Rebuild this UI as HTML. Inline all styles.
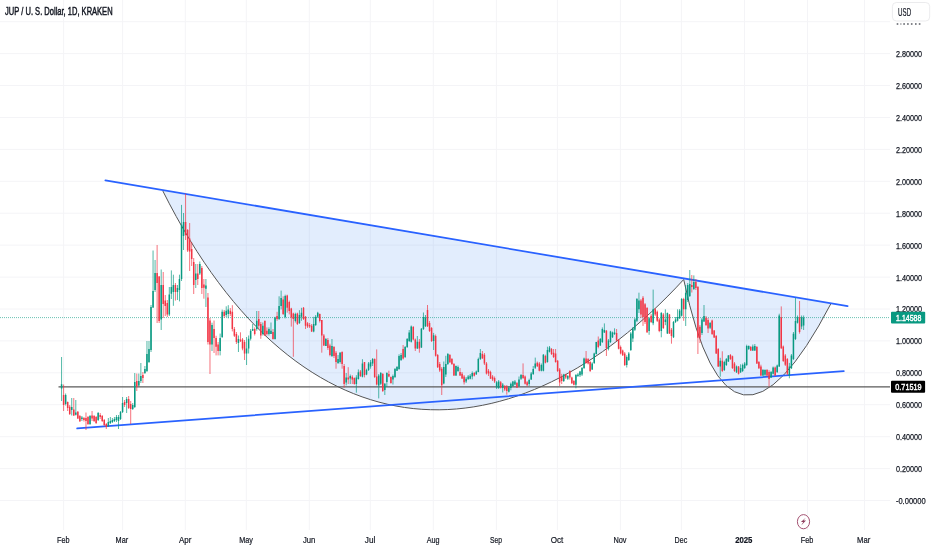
<!DOCTYPE html><html><head><meta charset="utf-8"><title>JUP / U. S. Dollar, 1D, KRAKEN</title><style>
html,body{margin:0;padding:0;background:#fff;width:932px;height:550px;overflow:hidden}
svg{display:block}
text{font-family:"Liberation Sans",Arial,sans-serif}
</style></head><body>
<svg width="932" height="550" viewBox="0 0 932 550">
<rect width="932" height="550" fill="#ffffff"/>
<path d="M63.6 0V530 M122.6 0V530 M185.3 0V530 M246.3 0V530 M309.3 0V530 M370.3 0V530 M433.3 0V530 M496.4 0V530 M557.4 0V530 M620.4 0V530 M681.4 0V530 M744.5 0V530 M807.5 0V530 M864.5 0V530 M0 500.5H890 M0 468.6H890 M0 436.7H890 M0 404.7H890 M0 372.8H890 M0 340.9H890 M0 309.0H890 M0 277.1H890 M0 245.1H890 M0 213.2H890 M0 181.3H890 M0 149.4H890 M0 117.5H890 M0 85.5H890 M0 53.6H890 M0 21.7H890" stroke="#f4f4f7" stroke-width="1" fill="none"/>
<path d="M162.8 190.9C303.1 471.35 516.69 461.31 683.7 279.5Z" fill="rgba(33,118,243,0.13)"/>
<path d="M683.7 279.5Q729.6 498.27 831.1 303.3Z" fill="rgba(33,118,243,0.13)"/>
<path d="M162.8 190.9C303.1 471.35 516.69 461.31 683.7 279.5" stroke="#555" stroke-width="1" fill="none"/>
<path d="M683.7 279.5Q729.6 498.27 831.1 303.3" stroke="#555" stroke-width="1" fill="none"/>
<path d="M58.5 386.8H890" stroke="#5a5a5a" stroke-width="1.35"/>
<path d="M105.4 180.3L847.6 306.2" stroke="#2962ff" stroke-width="1.8" stroke-linecap="round"/>
<path d="M77.2 428.4L843.8 371.1" stroke="#2962ff" stroke-width="1.8" stroke-linecap="round"/>
<path d="M0 317.6H890" stroke="#089981" stroke-opacity="0.6" stroke-width="1" stroke-dasharray="1 1"/>
<path d="M61.57 357.0V401.0 M65.64 393.5V405.5 M71.73 398.0V415.5 M75.80 400.0V415.5 M81.90 416.0V421.0 M90.03 415.0V425.0 M98.16 412.0V421.0 M108.33 418.0V427.0 M110.36 417.0V424.0 M112.39 418.0V423.0 M114.43 417.0V422.0 M116.46 415.0V422.0 M118.49 415.0V429.0 M120.53 411.0V420.0 M122.56 397.0V413.0 M126.63 397.0V413.0 M132.72 403.0V410.0 M134.76 373.0V408.0 M138.82 373.5V386.5 M140.86 363.0V383.0 M144.92 366.0V374.0 M146.96 341.0V372.0 M148.99 341.0V363.0 M151.02 305.0V352.0 M153.06 250.5V308.0 M155.09 260.0V292.0 M161.19 269.5V330.0 M169.32 287.0V316.0 M171.35 270.4V299.0 M173.38 274.7V305.8 M177.45 285.0V300.0 M179.48 274.7V301.4 M181.52 204.9V281.0 M183.55 213.0V250.0 M195.75 264.0V288.0 M199.81 261.5V275.0 M205.91 279.0V307.0 M212.01 322.7V351.0 M220.14 333.6V355.4 M222.18 309.6V338.0 M226.24 306.3V317.0 M228.28 305.2V318.3 M238.44 335.5V352.0 M246.57 337.0V365.0 M248.61 335.5V353.5 M250.64 329.0V340.5 M252.67 324.0V331.0 M256.74 311.0V330.7 M262.84 322.5V335.5 M268.94 327.4V335.5 M270.97 322.5V334.0 M275.04 316.8V339.6 M279.10 296.3V320.0 M281.13 290.6V309.4 M285.20 294.7V318.4 M295.37 312.7V322.5 M299.43 310.2V324.0 M301.46 307.8V320.8 M313.66 316.8V332.3 M315.69 315.0V326.0 M317.73 311.8V318.0 M325.86 338.0V346.0 M331.96 339.0V357.0 M338.06 355.0V364.0 M340.09 352.0V363.6 M346.19 373.0V385.4 M350.26 374.5V384.0 M356.35 375.2V392.7 M358.39 369.4V379.6 M362.45 359.2V377.4 M366.52 368.7V375.2 M368.55 362.0V371.0 M370.59 360.0V368.7 M372.62 358.0V366.0 M378.72 374.0V398.4 M380.75 372.0V385.0 M384.82 383.0V395.0 M386.85 372.3V387.0 M392.95 374.5V384.5 M394.98 368.0V378.0 M397.01 366.0V371.0 M399.05 354.3V369.8 M401.08 353.0V361.0 M405.15 346.0V358.0 M407.18 338.0V348.0 M409.21 330.0V342.0 M411.25 325.5V342.5 M417.34 336.0V349.0 M421.41 328.0V348.0 M423.44 312.5V330.0 M425.48 315.0V327.0 M433.61 332.9V350.0 M443.77 361.5V384.3 M445.81 355.8V377.0 M447.84 353.0V365.0 M455.97 365.5V376.0 M458.00 365.5V372.0 M466.14 377.0V383.0 M468.17 375.0V380.0 M470.20 374.0V379.4 M472.24 371.4V379.4 M476.30 370.5V375.0 M478.33 357.6V372.3 M480.37 349.0V360.0 M496.63 381.0V389.0 M498.66 380.0V389.0 M502.73 383.0V392.5 M508.83 386.0V392.5 M510.86 382.5V390.3 M512.90 380.9V386.7 M514.93 380.0V385.2 M519.00 376.5V387.0 M521.03 374.0V380.0 M529.16 378.7V386.0 M531.19 372.0V380.0 M533.23 366.0V375.0 M535.26 357.6V369.0 M541.36 363.5V371.4 M543.39 354.0V371.4 M547.46 346.7V362.7 M549.49 346.0V352.5 M563.72 373.8V382.0 M567.79 375.0V380.0 M575.92 374.0V388.3 M577.95 373.0V377.0 M579.99 370.9V377.0 M582.02 367.0V376.0 M584.05 357.6V369.0 M592.18 362.2V370.0 M594.22 352.7V364.0 M596.25 341.8V354.5 M600.32 338.0V346.0 M602.35 327.4V343.0 M604.38 323.4V333.0 M608.45 339.0V350.4 M610.48 330.8V343.0 M612.51 331.6V338.0 M614.55 328.3V335.0 M626.74 355.3V367.5 M628.78 352.0V361.0 M630.81 332.0V351.0 M632.84 327.0V342.0 M634.88 318.0V331.0 M636.91 298.0V322.0 M638.94 292.7V313.0 M649.11 317.0V334.8 M653.17 289.6V325.2 M661.31 312.0V337.3 M665.37 309.3V325.2 M667.40 312.5V334.0 M673.50 321.0V338.0 M675.54 317.0V323.0 M677.57 309.3V321.5 M679.60 309.0V319.0 M681.63 298.0V316.5 M685.70 285.0V326.0 M687.73 283.0V302.0 M689.77 270.0V297.0 M693.83 275.4V290.0 M701.97 318.0V335.0 M704.00 305.0V322.0 M710.10 322.0V329.0 M720.26 357.8V376.7 M724.33 360.7V371.0 M726.36 358.0V366.0 M728.39 355.0V362.0 M736.53 365.5V373.0 M740.59 364.3V373.0 M742.62 363.6V372.0 M744.66 362.0V369.0 M746.69 344.7V366.0 M748.72 345.4V350.0 M752.79 344.5V351.0 M754.82 344.0V351.0 M762.96 369.0V376.5 M764.99 369.3V376.0 M771.09 371.0V378.0 M773.12 366.5V374.5 M777.19 364.6V373.0 M779.22 313.7V367.0 M789.38 362.9V378.3 M791.42 354.0V369.0 M793.45 332.0V360.0 M795.48 298.0V340.0 M797.52 315.5V323.5 M801.58 315.5V329.2 M803.62 315.5V330.0" stroke="#089981" stroke-width="0.7" fill="none"/>
<path d="M63.60 384.5V411.0 M67.67 401.5V411.0 M69.70 405.0V415.0 M73.77 398.0V416.0 M77.83 411.0V419.0 M79.87 415.0V422.0 M83.93 417.0V421.5 M85.97 412.5V430.0 M88.00 416.0V425.0 M92.06 411.0V421.0 M94.10 415.0V422.0 M96.13 416.0V424.0 M100.20 413.0V419.0 M102.23 415.0V422.0 M104.26 419.0V426.0 M106.30 423.0V429.0 M124.59 400.0V407.0 M128.66 396.0V409.0 M130.69 401.0V424.0 M136.79 373.5V391.0 M142.89 372.0V383.0 M157.12 245.0V323.0 M159.15 276.0V323.0 M163.22 272.0V318.0 M165.25 295.0V316.0 M167.29 300.0V317.0 M175.42 283.0V300.6 M185.58 193.6V240.0 M187.62 229.0V252.0 M189.65 223.0V271.0 M191.68 242.0V266.0 M193.71 258.0V294.0 M197.78 264.0V285.0 M201.85 266.0V294.0 M203.88 279.0V298.7 M207.95 293.0V344.5 M209.98 318.0V374.0 M214.04 320.5V353.0 M216.08 335.8V355.4 M218.11 342.0V355.4 M224.21 310.0V318.0 M230.31 308.0V316.0 M232.34 305.2V331.4 M234.38 327.0V337.0 M236.41 332.0V344.0 M240.47 332.3V342.0 M242.51 338.0V350.3 M244.54 340.0V360.0 M254.70 327.4V335.5 M258.77 311.0V329.0 M260.80 322.0V338.8 M264.87 320.8V335.5 M266.90 327.4V335.5 M273.00 329.0V339.6 M277.07 311.8V320.8 M283.17 296.3V315.0 M287.23 294.7V312.7 M289.27 300.6V314.4 M291.30 307.8V326.6 M293.33 312.7V356.8 M297.40 312.7V325.0 M303.50 307.0V320.0 M305.53 316.0V329.0 M307.56 322.0V328.0 M309.60 323.0V328.0 M311.63 324.0V332.0 M319.76 313.5V322.5 M321.79 320.0V352.7 M323.83 334.0V346.0 M327.89 338.0V350.0 M329.93 343.7V356.3 M333.99 346.0V358.0 M336.02 351.0V368.7 M342.12 351.3V368.7 M344.16 364.0V387.6 M348.22 367.2V384.0 M352.29 375.2V384.0 M354.32 377.4V384.7 M360.42 370.0V377.0 M364.49 362.0V377.4 M374.65 358.4V378.0 M376.69 349.4V385.4 M382.78 373.0V392.0 M388.88 370.7V377.2 M390.92 376.4V383.7 M403.11 345.0V359.5 M413.28 326.0V340.5 M415.31 338.5V351.0 M419.38 339.0V352.7 M427.51 305.0V327.0 M429.54 321.0V332.0 M431.58 327.0V342.0 M435.64 334.5V356.6 M437.67 354.0V368.0 M439.71 362.0V372.0 M441.74 367.0V395.0 M449.87 354.0V363.0 M451.91 358.0V365.0 M453.94 363.0V376.0 M460.04 368.0V376.0 M462.07 372.0V379.0 M464.10 375.0V384.5 M474.27 372.0V376.5 M482.40 351.0V359.0 M484.43 353.0V365.0 M486.47 362.0V374.5 M488.50 369.0V376.0 M490.53 370.7V378.7 M492.57 375.0V381.0 M494.60 376.5V383.0 M500.70 381.0V388.5 M504.76 385.0V391.0 M506.80 385.0V394.7 M516.96 382.0V388.0 M523.06 363.4V379.0 M525.09 375.5V384.5 M527.13 381.0V386.5 M537.29 361.5V367.0 M539.33 362.0V371.4 M545.42 354.7V363.4 M551.52 348.0V355.0 M553.56 349.0V358.0 M555.59 349.0V362.7 M557.62 360.0V372.0 M559.65 368.0V386.0 M561.69 373.8V384.0 M565.75 373.8V379.0 M569.82 370.2V379.6 M571.85 376.7V384.0 M573.89 380.0V385.4 M586.08 351.0V363.6 M588.12 358.0V364.4 M590.15 361.0V372.0 M598.28 336.5V348.3 M606.41 330.0V356.0 M616.58 329.0V341.2 M618.61 339.0V349.4 M620.64 345.5V354.4 M622.68 349.6V356.0 M624.71 352.0V366.0 M640.98 299.0V318.0 M643.01 296.0V325.9 M645.04 303.0V324.0 M647.07 307.0V333.0 M651.14 314.0V323.0 M655.21 308.0V316.0 M657.24 310.5V322.0 M659.27 318.0V332.2 M663.34 313.0V329.0 M669.44 314.0V334.0 M671.47 328.0V343.7 M683.67 297.8V320.8 M691.80 275.0V292.5 M695.87 279.0V290.0 M697.90 286.0V354.0 M699.93 325.0V343.0 M706.03 316.0V326.0 M708.06 318.0V333.0 M712.13 319.6V335.0 M714.16 330.0V338.0 M716.20 335.0V354.0 M718.23 348.0V367.0 M722.30 351.3V372.0 M730.43 354.0V360.0 M732.46 355.6V369.0 M734.49 362.0V372.0 M738.56 366.0V374.5 M750.76 346.0V351.0 M756.86 346.0V364.0 M758.89 361.0V369.0 M760.92 364.7V376.0 M767.02 369.0V376.5 M769.05 370.2V386.5 M775.15 366.5V376.0 M781.25 306.4V349.0 M783.28 345.5V362.0 M785.32 354.0V366.0 M787.35 358.0V375.0 M799.55 301.0V333.7" stroke="#f23645" stroke-width="0.7" fill="none"/>
<path d="M60.82 384.2h1.5V388.5h-1.5z M64.89 395.0h1.5V404.0h-1.5z M70.98 407.0h1.5V410.0h-1.5z M75.05 412.5h1.5V414.7h-1.5z M81.15 417.5h1.5V419.0h-1.5z M89.28 416.0h1.5V424.0h-1.5z M97.41 413.0h1.5V420.0h-1.5z M107.58 422.0h1.5V426.0h-1.5z M109.61 421.0h1.5V423.0h-1.5z M111.64 420.0h1.5V422.0h-1.5z M113.68 419.0h1.5V421.0h-1.5z M115.71 417.0h1.5V420.0h-1.5z M117.74 417.0h1.5V421.0h-1.5z M119.78 412.0h1.5V419.0h-1.5z M121.81 403.0h1.5V412.0h-1.5z M125.88 399.0h1.5V403.0h-1.5z M131.97 405.0h1.5V409.0h-1.5z M134.01 382.0h1.5V407.0h-1.5z M138.07 381.0h1.5V385.6h-1.5z M140.11 376.0h1.5V381.0h-1.5z M144.17 369.0h1.5V373.0h-1.5z M146.21 354.0h1.5V371.0h-1.5z M148.24 349.0h1.5V362.0h-1.5z M150.27 307.0h1.5V350.0h-1.5z M152.31 291.0h1.5V307.5h-1.5z M154.34 273.0h1.5V290.0h-1.5z M160.44 285.0h1.5V319.6h-1.5z M168.57 294.6h1.5V314.4h-1.5z M170.60 287.0h1.5V293.7h-1.5z M172.63 285.0h1.5V292.0h-1.5z M176.70 288.0h1.5V292.0h-1.5z M178.73 279.0h1.5V290.0h-1.5z M180.77 224.7h1.5V279.0h-1.5z M182.80 222.0h1.5V236.0h-1.5z M195.00 273.6h1.5V280.0h-1.5z M199.06 264.0h1.5V273.6h-1.5z M205.16 285.6h1.5V288.8h-1.5z M211.26 325.0h1.5V344.5h-1.5z M219.39 338.0h1.5V351.0h-1.5z M221.43 311.8h1.5V337.0h-1.5z M225.49 310.7h1.5V315.0h-1.5z M227.53 309.6h1.5V314.0h-1.5z M237.69 339.0h1.5V343.0h-1.5z M245.82 348.6h1.5V353.5h-1.5z M247.86 338.8h1.5V348.6h-1.5z M249.89 330.7h1.5V338.8h-1.5z M251.92 329.0h1.5V330.7h-1.5z M255.99 320.8h1.5V329.0h-1.5z M262.09 325.8h1.5V334.0h-1.5z M268.19 329.0h1.5V334.0h-1.5z M270.22 330.7h1.5V334.0h-1.5z M274.29 317.6h1.5V339.0h-1.5z M278.35 306.0h1.5V319.0h-1.5z M280.38 298.0h1.5V306.0h-1.5z M284.45 296.0h1.5V317.0h-1.5z M294.62 314.0h1.5V321.0h-1.5z M298.68 315.0h1.5V323.0h-1.5z M300.71 312.7h1.5V316.8h-1.5z M312.91 324.0h1.5V331.5h-1.5z M314.94 316.8h1.5V325.0h-1.5z M316.98 312.7h1.5V316.8h-1.5z M325.11 339.0h1.5V346.0h-1.5z M331.21 346.0h1.5V356.0h-1.5z M337.31 359.0h1.5V363.0h-1.5z M339.34 352.7h1.5V362.0h-1.5z M345.44 377.4h1.5V382.5h-1.5z M349.51 376.0h1.5V378.5h-1.5z M355.60 377.4h1.5V384.0h-1.5z M357.64 372.3h1.5V378.9h-1.5z M361.70 363.6h1.5V376.7h-1.5z M365.77 370.0h1.5V374.5h-1.5z M367.80 363.6h1.5V370.0h-1.5z M369.84 362.2h1.5V366.5h-1.5z M371.87 359.0h1.5V363.6h-1.5z M377.97 375.6h1.5V385.4h-1.5z M380.00 373.0h1.5V383.7h-1.5z M384.07 383.7h1.5V390.0h-1.5z M386.10 373.0h1.5V382.0h-1.5z M392.20 376.0h1.5V379.6h-1.5z M394.23 369.0h1.5V377.0h-1.5z M396.26 367.0h1.5V370.7h-1.5z M398.30 356.0h1.5V369.0h-1.5z M400.33 355.0h1.5V360.0h-1.5z M404.40 347.0h1.5V357.0h-1.5z M406.43 339.0h1.5V347.0h-1.5z M408.46 332.4h1.5V341.0h-1.5z M410.50 326.5h1.5V341.8h-1.5z M416.59 341.8h1.5V348.4h-1.5z M420.66 328.7h1.5V347.6h-1.5z M422.69 317.0h1.5V329.0h-1.5z M424.73 317.4h1.5V326.3h-1.5z M432.86 335.3h1.5V341.0h-1.5z M443.02 367.0h1.5V383.5h-1.5z M445.06 364.0h1.5V374.5h-1.5z M447.09 354.0h1.5V364.0h-1.5z M455.22 366.0h1.5V375.4h-1.5z M457.25 367.0h1.5V371.0h-1.5z M465.39 378.7h1.5V381.6h-1.5z M467.42 376.5h1.5V379.0h-1.5z M469.45 375.8h1.5V378.7h-1.5z M471.49 373.0h1.5V376.5h-1.5z M475.55 371.4h1.5V374.3h-1.5z M477.58 359.0h1.5V372.0h-1.5z M479.62 353.0h1.5V359.0h-1.5z M495.88 382.3h1.5V387.4h-1.5z M497.91 381.6h1.5V388.0h-1.5z M501.98 384.5h1.5V388.0h-1.5z M508.08 387.4h1.5V391.8h-1.5z M510.11 383.8h1.5V388.0h-1.5z M512.15 381.6h1.5V386.0h-1.5z M514.18 381.6h1.5V384.5h-1.5z M518.25 379.4h1.5V386.0h-1.5z M520.28 375.0h1.5V378.7h-1.5z M528.41 380.0h1.5V384.0h-1.5z M530.44 373.6h1.5V379.4h-1.5z M532.48 369.0h1.5V374.0h-1.5z M534.51 363.4h1.5V367.8h-1.5z M540.61 364.9h1.5V370.7h-1.5z M542.64 354.7h1.5V370.7h-1.5z M546.71 350.0h1.5V362.0h-1.5z M548.74 347.4h1.5V351.8h-1.5z M562.97 374.5h1.5V381.0h-1.5z M567.04 376.0h1.5V378.8h-1.5z M575.17 375.0h1.5V384.7h-1.5z M577.20 374.5h1.5V376.0h-1.5z M579.24 371.6h1.5V375.2h-1.5z M581.27 368.0h1.5V374.5h-1.5z M583.30 358.5h1.5V368.0h-1.5z M591.43 363.6h1.5V369.4h-1.5z M593.47 353.4h1.5V363.0h-1.5z M595.50 342.0h1.5V354.0h-1.5z M599.57 339.0h1.5V345.5h-1.5z M601.60 329.0h1.5V342.0h-1.5z M603.63 330.0h1.5V332.4h-1.5z M607.70 340.6h1.5V348.7h-1.5z M609.73 331.6h1.5V342.0h-1.5z M611.76 332.4h1.5V337.3h-1.5z M613.80 332.4h1.5V334.0h-1.5z M625.99 357.0h1.5V365.0h-1.5z M628.03 353.6h1.5V360.0h-1.5z M630.06 333.5h1.5V350.0h-1.5z M632.09 328.4h1.5V338.6h-1.5z M634.13 319.5h1.5V329.7h-1.5z M636.16 299.0h1.5V320.8h-1.5z M638.19 300.4h1.5V309.3h-1.5z M648.36 318.2h1.5V331.0h-1.5z M652.42 309.3h1.5V323.3h-1.5z M660.56 313.0h1.5V331.0h-1.5z M664.62 319.5h1.5V322.0h-1.5z M666.65 313.0h1.5V333.5h-1.5z M672.75 322.0h1.5V337.3h-1.5z M674.79 319.5h1.5V322.0h-1.5z M676.82 317.0h1.5V320.8h-1.5z M678.85 310.6h1.5V318.2h-1.5z M680.88 299.0h1.5V315.7h-1.5z M684.95 292.7h1.5V309.3h-1.5z M686.98 285.0h1.5V300.0h-1.5z M689.02 284.0h1.5V296.0h-1.5z M693.08 282.0h1.5V289.0h-1.5z M701.22 319.5h1.5V333.0h-1.5z M703.25 316.0h1.5V321.4h-1.5z M709.35 323.0h1.5V327.7h-1.5z M719.51 360.7h1.5V366.5h-1.5z M723.58 362.0h1.5V370.0h-1.5z M725.61 359.0h1.5V365.0h-1.5z M727.64 355.6h1.5V361.4h-1.5z M735.78 366.5h1.5V372.3h-1.5z M739.84 368.0h1.5V372.3h-1.5z M741.88 365.0h1.5V371.0h-1.5z M743.91 363.6h1.5V368.0h-1.5z M745.94 346.0h1.5V365.0h-1.5z M747.97 346.0h1.5V349.0h-1.5z M752.04 346.5h1.5V350.5h-1.5z M754.07 346.0h1.5V350.5h-1.5z M762.21 370.0h1.5V375.6h-1.5z M764.24 370.0h1.5V374.7h-1.5z M770.34 372.0h1.5V377.4h-1.5z M772.37 367.4h1.5V373.8h-1.5z M776.44 365.6h1.5V372.0h-1.5z M778.47 315.5h1.5V366.5h-1.5z M788.63 366.5h1.5V375.6h-1.5z M790.67 355.6h1.5V368.3h-1.5z M792.70 333.7h1.5V359.0h-1.5z M794.73 321.0h1.5V339.0h-1.5z M796.77 317.3h1.5V322.8h-1.5z M800.83 317.3h1.5V326.4h-1.5z M802.87 317.6h1.5V325.5h-1.5z" fill="#089981"/>
<path d="M62.85 395.0h1.5V405.0h-1.5z M66.92 402.0h1.5V408.0h-1.5z M68.95 406.7h1.5V414.0h-1.5z M73.02 409.6h1.5V415.5h-1.5z M77.08 411.8h1.5V418.4h-1.5z M79.12 416.0h1.5V421.3h-1.5z M83.18 418.0h1.5V420.0h-1.5z M85.22 418.0h1.5V421.0h-1.5z M87.25 417.0h1.5V424.0h-1.5z M91.31 415.5h1.5V418.5h-1.5z M93.35 416.0h1.5V421.0h-1.5z M95.38 417.0h1.5V423.0h-1.5z M99.45 415.0h1.5V417.0h-1.5z M101.48 416.0h1.5V421.0h-1.5z M103.51 420.0h1.5V425.0h-1.5z M105.55 424.0h1.5V427.0h-1.5z M123.84 402.0h1.5V405.0h-1.5z M127.91 399.0h1.5V408.0h-1.5z M129.94 404.0h1.5V409.0h-1.5z M136.04 381.0h1.5V386.5h-1.5z M142.14 375.0h1.5V378.0h-1.5z M156.37 273.0h1.5V283.0h-1.5z M158.40 276.5h1.5V321.0h-1.5z M162.47 285.0h1.5V304.0h-1.5z M164.50 300.6h1.5V306.0h-1.5z M166.54 303.0h1.5V314.4h-1.5z M174.67 285.0h1.5V292.0h-1.5z M184.83 222.0h1.5V235.0h-1.5z M186.87 230.0h1.5V250.6h-1.5z M188.90 238.5h1.5V251.5h-1.5z M190.93 249.0h1.5V259.0h-1.5z M192.96 262.0h1.5V285.0h-1.5z M197.03 273.6h1.5V279.0h-1.5z M201.10 268.0h1.5V288.0h-1.5z M203.13 284.5h1.5V287.7h-1.5z M207.20 297.6h1.5V342.0h-1.5z M209.23 320.5h1.5V344.5h-1.5z M213.29 329.0h1.5V338.0h-1.5z M215.33 338.0h1.5V346.7h-1.5z M217.36 344.5h1.5V351.0h-1.5z M223.46 311.8h1.5V316.0h-1.5z M229.56 310.7h1.5V314.0h-1.5z M231.59 311.8h1.5V329.0h-1.5z M233.62 329.0h1.5V335.8h-1.5z M235.66 334.0h1.5V342.0h-1.5z M239.72 339.6h1.5V341.3h-1.5z M241.76 339.6h1.5V348.6h-1.5z M243.79 342.0h1.5V353.5h-1.5z M253.95 329.0h1.5V334.0h-1.5z M258.02 319.0h1.5V325.7h-1.5z M260.05 324.0h1.5V335.5h-1.5z M264.12 320.8h1.5V335.5h-1.5z M266.15 330.7h1.5V334.0h-1.5z M272.25 332.0h1.5V339.0h-1.5z M276.32 316.0h1.5V319.0h-1.5z M282.42 299.6h1.5V314.0h-1.5z M286.48 295.5h1.5V307.8h-1.5z M288.52 302.0h1.5V311.0h-1.5z M290.55 308.6h1.5V317.6h-1.5z M292.58 313.5h1.5V319.0h-1.5z M296.65 313.5h1.5V324.0h-1.5z M302.75 307.8h1.5V319.0h-1.5z M304.78 316.8h1.5V325.8h-1.5z M306.81 323.3h1.5V326.6h-1.5z M308.85 325.0h1.5V326.6h-1.5z M310.88 325.8h1.5V331.5h-1.5z M319.01 314.0h1.5V321.0h-1.5z M321.04 320.0h1.5V335.5h-1.5z M323.08 335.5h1.5V345.4h-1.5z M327.14 340.0h1.5V348.0h-1.5z M329.18 345.4h1.5V355.0h-1.5z M333.24 347.0h1.5V356.0h-1.5z M335.27 352.7h1.5V362.0h-1.5z M341.37 352.0h1.5V364.0h-1.5z M343.41 366.0h1.5V384.0h-1.5z M347.47 377.4h1.5V379.6h-1.5z M351.54 376.7h1.5V379.6h-1.5z M353.57 378.0h1.5V384.0h-1.5z M359.67 371.6h1.5V376.0h-1.5z M363.74 362.0h1.5V375.0h-1.5z M373.90 359.0h1.5V377.0h-1.5z M375.94 376.4h1.5V384.5h-1.5z M382.03 374.0h1.5V391.0h-1.5z M388.13 374.0h1.5V376.4h-1.5z M390.17 377.0h1.5V383.0h-1.5z M402.36 349.0h1.5V358.5h-1.5z M412.53 327.0h1.5V339.6h-1.5z M414.56 339.6h1.5V348.4h-1.5z M418.63 341.8h1.5V348.4h-1.5z M426.76 310.0h1.5V326.3h-1.5z M428.79 323.0h1.5V331.0h-1.5z M430.83 328.0h1.5V341.0h-1.5z M434.89 336.0h1.5V355.8h-1.5z M436.92 355.0h1.5V367.2h-1.5z M438.96 364.0h1.5V370.5h-1.5z M440.99 368.8h1.5V385.2h-1.5z M449.12 355.0h1.5V362.3h-1.5z M451.16 359.0h1.5V364.0h-1.5z M453.19 364.0h1.5V375.4h-1.5z M459.29 372.0h1.5V375.4h-1.5z M461.32 373.7h1.5V378.6h-1.5z M463.35 376.5h1.5V382.3h-1.5z M473.52 373.0h1.5V375.8h-1.5z M481.65 354.0h1.5V358.3h-1.5z M483.68 354.7h1.5V363.4h-1.5z M485.72 363.4h1.5V373.6h-1.5z M487.75 370.7h1.5V373.6h-1.5z M489.78 372.0h1.5V378.7h-1.5z M491.82 376.5h1.5V379.4h-1.5z M493.85 378.0h1.5V381.6h-1.5z M499.95 382.3h1.5V387.4h-1.5z M504.01 386.0h1.5V389.6h-1.5z M506.05 386.7h1.5V391.0h-1.5z M516.21 383.0h1.5V387.4h-1.5z M522.31 375.0h1.5V378.0h-1.5z M524.34 376.5h1.5V383.8h-1.5z M526.38 382.3h1.5V385.2h-1.5z M536.54 362.7h1.5V366.3h-1.5z M538.58 363.4h1.5V370.7h-1.5z M544.67 356.0h1.5V362.7h-1.5z M550.77 349.0h1.5V354.0h-1.5z M552.81 352.7h1.5V357.0h-1.5z M554.84 353.4h1.5V362.0h-1.5z M556.87 360.7h1.5V371.0h-1.5z M558.90 369.4h1.5V382.5h-1.5z M560.94 376.7h1.5V381.0h-1.5z M565.00 374.5h1.5V377.4h-1.5z M569.07 371.0h1.5V377.4h-1.5z M571.10 377.6h1.5V383.2h-1.5z M573.14 381.0h1.5V384.7h-1.5z M585.33 358.5h1.5V363.0h-1.5z M587.37 359.0h1.5V363.6h-1.5z M589.40 362.0h1.5V371.0h-1.5z M597.53 340.6h1.5V347.0h-1.5z M605.66 330.8h1.5V348.0h-1.5z M615.83 333.0h1.5V340.6h-1.5z M617.86 339.7h1.5V348.7h-1.5z M619.89 347.0h1.5V353.6h-1.5z M621.93 350.4h1.5V355.3h-1.5z M623.96 353.6h1.5V365.0h-1.5z M640.23 300.4h1.5V314.4h-1.5z M642.26 297.8h1.5V317.0h-1.5z M644.29 304.2h1.5V322.0h-1.5z M646.32 308.0h1.5V332.2h-1.5z M650.39 315.7h1.5V322.0h-1.5z M654.46 309.3h1.5V314.4h-1.5z M656.49 311.8h1.5V320.8h-1.5z M658.52 319.5h1.5V331.0h-1.5z M662.59 314.4h1.5V328.0h-1.5z M668.69 314.4h1.5V333.5h-1.5z M670.72 329.7h1.5V336.0h-1.5z M682.92 299.0h1.5V309.3h-1.5z M691.05 285.0h1.5V287.0h-1.5z M695.12 282.0h1.5V288.0h-1.5z M697.15 287.0h1.5V337.7h-1.5z M699.18 326.8h1.5V337.7h-1.5z M705.28 317.7h1.5V325.0h-1.5z M707.31 320.0h1.5V328.6h-1.5z M711.38 320.5h1.5V334.0h-1.5z M713.41 330.5h1.5V337.4h-1.5z M715.45 336.0h1.5V353.4h-1.5z M717.48 349.0h1.5V366.5h-1.5z M721.55 360.7h1.5V371.0h-1.5z M729.68 355.0h1.5V359.0h-1.5z M731.71 356.3h1.5V368.0h-1.5z M733.74 363.6h1.5V371.0h-1.5z M737.81 366.5h1.5V373.8h-1.5z M750.01 347.0h1.5V350.5h-1.5z M756.11 347.0h1.5V363.6h-1.5z M758.14 362.0h1.5V368.3h-1.5z M760.17 366.5h1.5V375.6h-1.5z M766.27 370.0h1.5V375.6h-1.5z M768.30 372.0h1.5V379.0h-1.5z M774.40 367.4h1.5V375.6h-1.5z M780.50 317.3h1.5V348.3h-1.5z M782.53 346.5h1.5V361.0h-1.5z M784.57 355.6h1.5V364.7h-1.5z M786.60 359.0h1.5V373.8h-1.5z M798.80 317.3h1.5V332.0h-1.5z" fill="#f23645"/>
<rect x="890" y="0" width="42" height="530" fill="#fff"/>
<text x="895.9" y="57.0" font-size="9.5" fill="#131722" stroke="#131722" stroke-width="0.25" textLength="26.2" lengthAdjust="spacingAndGlyphs">2.80000</text>
<text x="895.9" y="88.9" font-size="9.5" fill="#131722" stroke="#131722" stroke-width="0.25" textLength="26.2" lengthAdjust="spacingAndGlyphs">2.60000</text>
<text x="895.9" y="120.9" font-size="9.5" fill="#131722" stroke="#131722" stroke-width="0.25" textLength="26.2" lengthAdjust="spacingAndGlyphs">2.40000</text>
<text x="895.9" y="152.8" font-size="9.5" fill="#131722" stroke="#131722" stroke-width="0.25" textLength="26.2" lengthAdjust="spacingAndGlyphs">2.20000</text>
<text x="895.9" y="184.7" font-size="9.5" fill="#131722" stroke="#131722" stroke-width="0.25" textLength="26.2" lengthAdjust="spacingAndGlyphs">2.00000</text>
<text x="895.9" y="216.6" font-size="9.5" fill="#131722" stroke="#131722" stroke-width="0.25" textLength="26.2" lengthAdjust="spacingAndGlyphs">1.80000</text>
<text x="895.9" y="248.5" font-size="9.5" fill="#131722" stroke="#131722" stroke-width="0.25" textLength="26.2" lengthAdjust="spacingAndGlyphs">1.60000</text>
<text x="895.9" y="280.5" font-size="9.5" fill="#131722" stroke="#131722" stroke-width="0.25" textLength="26.2" lengthAdjust="spacingAndGlyphs">1.40000</text>
<text x="895.9" y="312.4" font-size="9.5" fill="#131722" stroke="#131722" stroke-width="0.25" textLength="26.2" lengthAdjust="spacingAndGlyphs">1.20000</text>
<text x="895.9" y="344.3" font-size="9.5" fill="#131722" stroke="#131722" stroke-width="0.25" textLength="26.2" lengthAdjust="spacingAndGlyphs">1.00000</text>
<text x="895.9" y="376.2" font-size="9.5" fill="#131722" stroke="#131722" stroke-width="0.25" textLength="26.2" lengthAdjust="spacingAndGlyphs">0.80000</text>
<text x="895.9" y="408.1" font-size="9.5" fill="#131722" stroke="#131722" stroke-width="0.25" textLength="26.2" lengthAdjust="spacingAndGlyphs">0.60000</text>
<text x="895.9" y="440.1" font-size="9.5" fill="#131722" stroke="#131722" stroke-width="0.25" textLength="26.2" lengthAdjust="spacingAndGlyphs">0.40000</text>
<text x="895.9" y="472.0" font-size="9.5" fill="#131722" stroke="#131722" stroke-width="0.25" textLength="26.2" lengthAdjust="spacingAndGlyphs">0.20000</text>
<text x="895.9" y="503.9" font-size="9.5" fill="#131722" stroke="#131722" stroke-width="0.25" textLength="29.8" lengthAdjust="spacingAndGlyphs">-0.00000</text>
<rect x="890" y="0" width="42" height="23.2" fill="#fff"/>
<rect x="892.4" y="2.5" width="37.3" height="18.5" rx="4" fill="#fff" stroke="#e6e6e8" stroke-width="0.8"/>
<rect x="896.7" y="23.3" width="1.6" height="1.4" fill="#131722" opacity="0.75"/>
<rect x="900.0" y="23.3" width="1.6" height="1.4" fill="#131722" opacity="0.4"/>
<rect x="903.3" y="23.3" width="1.6" height="1.4" fill="#131722" opacity="0.75"/>
<rect x="907.1" y="23.3" width="1.6" height="1.4" fill="#131722" opacity="0.75"/>
<rect x="910.9" y="23.3" width="1.6" height="1.4" fill="#131722" opacity="0.75"/>
<rect x="915.0" y="23.3" width="1.6" height="1.4" fill="#131722" opacity="0.75"/>
<rect x="918.8" y="23.3" width="1.6" height="1.4" fill="#131722" opacity="0.75"/>
<text x="898.1" y="15.7" font-size="10.2" fill="#131722" stroke="#131722" stroke-width="0.2" textLength="13" lengthAdjust="spacingAndGlyphs">USD</text>
<rect x="891" y="311.8" width="34.2" height="11.8" rx="1" fill="#089981"/>
<text x="896.1" y="320.9" font-size="9.8" fill="#fff" stroke="#fff" stroke-width="0.45" textLength="25.3" lengthAdjust="spacingAndGlyphs">1.14588</text>
<rect x="891" y="380.8" width="34.1" height="12" rx="1" fill="#000"/>
<text x="895.3" y="389.9" font-size="9.6" fill="#fff" stroke="#fff" stroke-width="0.45" textLength="26.3" lengthAdjust="spacingAndGlyphs">0.71519</text>
<text x="63.3" y="542.9" font-size="8.8" fill="#131722" stroke="#131722" stroke-width="0.2" text-anchor="middle" textLength="12.6" lengthAdjust="spacingAndGlyphs">Feb</text>
<text x="121.9" y="542.9" font-size="8.8" fill="#131722" stroke="#131722" stroke-width="0.2" text-anchor="middle" textLength="12.6" lengthAdjust="spacingAndGlyphs">Mar</text>
<text x="185.1" y="542.9" font-size="8.8" fill="#131722" stroke="#131722" stroke-width="0.2" text-anchor="middle" textLength="12.4" lengthAdjust="spacingAndGlyphs">Apr</text>
<text x="246.0" y="542.9" font-size="8.8" fill="#131722" stroke="#131722" stroke-width="0.2" text-anchor="middle" textLength="13.7" lengthAdjust="spacingAndGlyphs">May</text>
<text x="309.1" y="542.9" font-size="8.8" fill="#131722" stroke="#131722" stroke-width="0.2" text-anchor="middle" textLength="12.4" lengthAdjust="spacingAndGlyphs">Jun</text>
<text x="370.1" y="542.9" font-size="8.8" fill="#131722" stroke="#131722" stroke-width="0.2" text-anchor="middle" textLength="10.5" lengthAdjust="spacingAndGlyphs">Jul</text>
<text x="433.1" y="542.9" font-size="8.8" fill="#131722" stroke="#131722" stroke-width="0.2" text-anchor="middle" textLength="12.9" lengthAdjust="spacingAndGlyphs">Aug</text>
<text x="495.9" y="542.9" font-size="8.8" fill="#131722" stroke="#131722" stroke-width="0.2" text-anchor="middle" textLength="12.0" lengthAdjust="spacingAndGlyphs">Sep</text>
<text x="557.0" y="542.9" font-size="8.8" fill="#131722" stroke="#131722" stroke-width="0.2" text-anchor="middle" textLength="12.6" lengthAdjust="spacingAndGlyphs">Oct</text>
<text x="620.0" y="542.9" font-size="8.8" fill="#131722" stroke="#131722" stroke-width="0.2" text-anchor="middle" textLength="13.1" lengthAdjust="spacingAndGlyphs">Nov</text>
<text x="680.9" y="542.9" font-size="8.8" fill="#131722" stroke="#131722" stroke-width="0.2" text-anchor="middle" textLength="12.6" lengthAdjust="spacingAndGlyphs">Dec</text>
<text x="743.8" y="542.9" font-size="8.8" fill="#131722" stroke="#131722" stroke-width="0.2" text-anchor="middle" textLength="17.3" lengthAdjust="spacingAndGlyphs" font-weight="bold">2025</text>
<text x="807.0" y="542.9" font-size="8.8" fill="#131722" stroke="#131722" stroke-width="0.2" text-anchor="middle" textLength="12.6" lengthAdjust="spacingAndGlyphs">Feb</text>
<text x="863.6" y="542.9" font-size="8.8" fill="#131722" stroke="#131722" stroke-width="0.2" text-anchor="middle" textLength="13.2" lengthAdjust="spacingAndGlyphs">Mar</text>
<ellipse cx="803.5" cy="521.7" rx="6.1" ry="7.1" fill="#fff" stroke="#a45272" stroke-width="1"/>
<path d="M805.7 517.8L800.9 521.9H803.3L801.1 525.4L806 520.5H803.6Z" fill="#8d3c5c"/>
<text x="5.1" y="14.8" font-size="10.6" fill="#131722" stroke="#131722" stroke-width="0.45" textLength="107.5" lengthAdjust="spacingAndGlyphs">JUP / U. S. Dollar, 1D, KRAKEN</text>
</svg></body></html>
